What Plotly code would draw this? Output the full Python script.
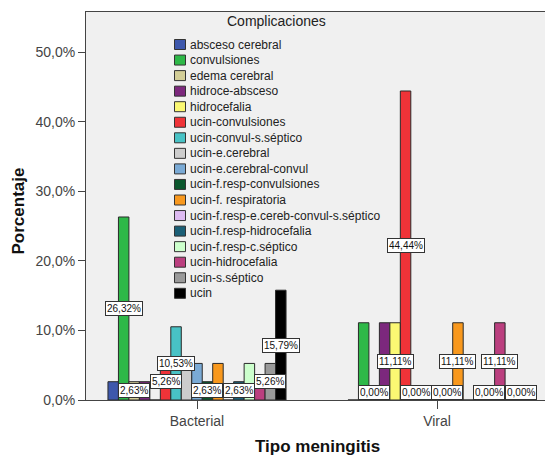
import plotly.graph_objects as go

categories = ["Bacterial", "Viral"]
complications = [
    "absceso cerebral", "convulsiones", "edema cerebral", "hidroce-absceso",
    "hidrocefalia", "ucin-convulsiones", "ucin-convul-s.séptico", "ucin-e.cerebral",
    "ucin-e.cerebral-convul", "ucin-f.resp-convulsiones", "ucin-f. respiratoria",
    "ucin-f.resp-e.cereb-convul-s.séptico", "ucin-f.resp-hidrocefalia",
    "ucin-f.resp-c.séptico", "ucin-hidrocefalia", "ucin-s.séptico", "ucin",
]
bacterial_pct = [2.63, 26.32, 2.63, 2.63, 0.0, 5.26, 10.53, 5.26, 5.26, 2.63,
                 5.26, 0.0, 2.63, 5.26, 2.63, 5.26, 15.79]
viral_pct = [0.0, 11.11, 0.0, 11.11, 11.11, 44.44, 0.0, 0.0, 0.0, 0.0,
             11.11, 0.0, 0.0, 0.0, 11.11, 0.0, 0.0]
# which data labels are visible (others hidden by overlap in the original)
bacterial_label_shown = [0, 1, 1, 0, 0, 1, 1, 0, 0, 1, 0, 0, 1, 0, 0, 1, 1]
viral_label_shown = [0, 0, 1, 0, 1, 1, 1, 0, 0, 1, 1, 0, 0, 1, 1, 0, 1]
colors = [
    "#3E58AC", "#2EB848", "#D3CE97", "#7C287D", "#FBF873", "#EF3338", "#48C2C5",
    "#CCCCCC", "#7AAAD5", "#0A562C", "#F8981D", "#DDBAF1", "#1A5F76", "#CCFFCC",
    "#BB3F7F", "#999999", "#000000",
]
y_ticks = [0, 10, 20, 30, 40, 50]
y_tick_labels = [f"{t:.1f}".replace(".", ",") + "%" for t in y_ticks]
legend_title = "Complicaciones"
x_title = "Tipo meningitis"
y_title = "Porcentaje"

FONT = "Liberation Sans, Arial, sans-serif"
W, H = 545, 458
ML, MR, MT, MB = 86, 0, 12, 58
PW, PH = W - ML - MR, H - MT - MB
YMAX = 55.8
BARGAP = 0.258
n = len(complications)
group_w = 1 - BARGAP
bar_w = group_w / n
x_pos = list(range(len(categories)))

fig = go.Figure()
for i, name in enumerate(complications):
    fig.add_trace(go.Bar(
        x=x_pos, y=[bacterial_pct[i], viral_pct[i]], name=name,
        marker=dict(color=colors[i], line=dict(color="#2a2a2a", width=1)),
        showlegend=False,
    ))

annotations = []
series = [bacterial_pct, viral_pct]
shown = [bacterial_label_shown, viral_label_shown]
for g in range(len(categories)):
    for i in range(n):
        if not shown[g][i]:
            continue
        v = series[g][i]
        xc = x_pos[g] - group_w / 2 + (i + 0.5) * bar_w
        annotations.append(dict(
            x=xc, y=max(v / 2, 1.05), xref="x", yref="y",
            text=f"{v:.2f}".replace(".", ",") + "%", showarrow=False,
            font=dict(family=FONT, size=10, color="#111111"),
            bgcolor="white", bordercolor="#333333", borderwidth=1, borderpad=1,
            xanchor="center", yanchor="middle",
        ))


def px2x(px):
    return (px - ML) / PW


def py2y(py):
    return (H - MB - py) / PH


# compact legend drawn inside the plot, as in the original
shapes = []
y0, step = 44.5, 15.55
for i, name in enumerate(complications):
    cy = y0 + i * step
    shapes.append(dict(type="rect", xref="paper", yref="paper",
                       x0=px2x(174.5), x1=px2x(185.5),
                       y0=py2y(cy + 5), y1=py2y(cy - 5),
                       fillcolor=colors[i], line=dict(color="#333333", width=1)))
    annotations.append(dict(x=px2x(188), y=py2y(cy), xref="paper", yref="paper",
                            text=name, showarrow=False, xanchor="left", yanchor="middle",
                            font=dict(family=FONT, size=12, color="#222222")))
annotations.append(dict(x=px2x(276.5), y=py2y(21), xref="paper", yref="paper",
                        text=legend_title, showarrow=False, xanchor="center", yanchor="middle",
                        font=dict(family=FONT, size=14, color="#222222")))
# axis titles
annotations.append(dict(x=px2x(317), y=py2y(446), xref="paper", yref="paper",
                        text=f"<b>{x_title}</b>", showarrow=False,
                        xanchor="center", yanchor="middle",
                        font=dict(family=FONT, size=17, color="#111111")))
annotations.append(dict(x=px2x(18.5), y=py2y(211), xref="paper", yref="paper",
                        text=f"<b>{y_title}</b>", showarrow=False, textangle=-90,
                        xanchor="center", yanchor="middle",
                        font=dict(family=FONT, size=17, color="#111111")))

fig.update_layout(
    width=W, height=H,
    margin=dict(l=ML, r=MR, t=MT, b=MB, autoexpand=False),
    paper_bgcolor="white", plot_bgcolor="#F0F0F0",
    barmode="group", bargap=BARGAP, bargroupgap=0,
    font=dict(family=FONT, color="#333333"),
    annotations=annotations, shapes=shapes,
    xaxis=dict(
        range=[-0.4625, 1.45], tickvals=x_pos, ticktext=categories,
        ticks="outside", ticklen=8, tickcolor="#444444", automargin=False,
        showline=True, linecolor="#444444", mirror=True, showgrid=False, zeroline=False,
        tickfont=dict(family=FONT, size=14, color="#444444"),
    ),
    yaxis=dict(
        range=[0, YMAX], tickvals=y_ticks, ticktext=y_tick_labels,
        ticks="outside", ticklen=7, tickcolor="#444444", automargin=False,
        showline=True, linecolor="#444444", showgrid=False, zeroline=False,
        tickfont=dict(family=FONT, size=14, color="#444444"),
    ),
)

fig.write_html(
    "out.html",
    config={"responsive": False, "displayModeBar": False},
    post_script="document.body.style.margin='0';document.body.style.overflow='hidden';",
)
